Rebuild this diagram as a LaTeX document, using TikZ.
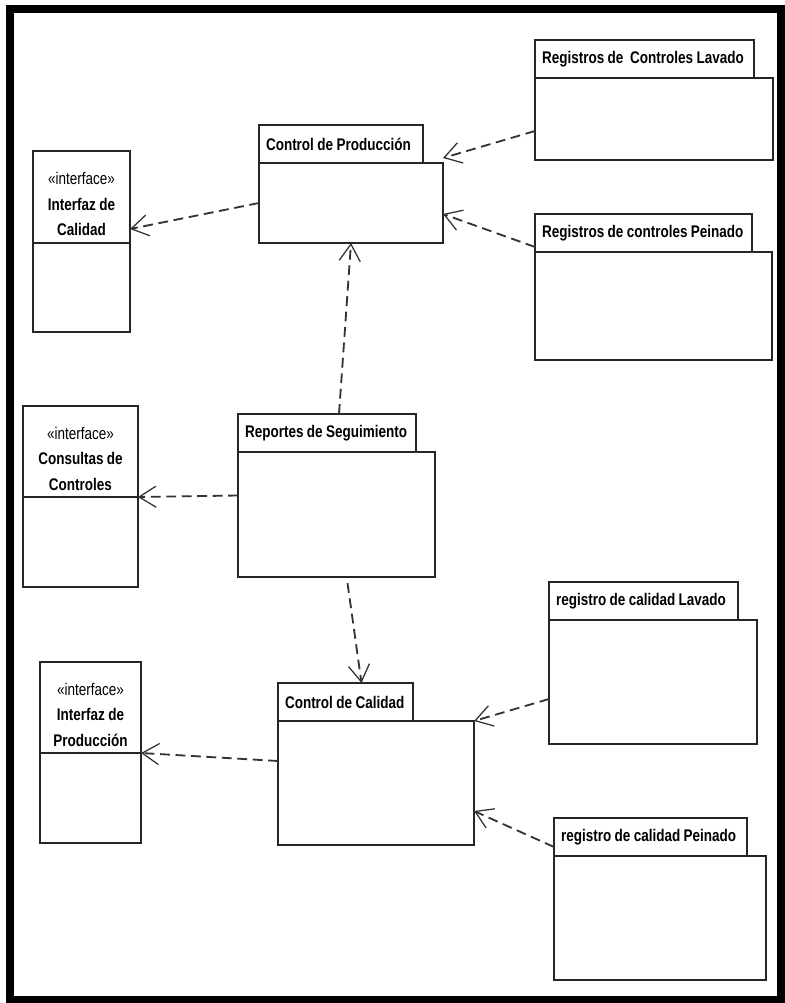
\documentclass[tikz,border=0pt]{standalone}
\usepackage{fontspec}
\setmainfont{Liberation Sans}[FakeStretch=0.8, WordSpace=0.9]
\usetikzlibrary{arrows.meta, positioning}
\newcommand{\px}{0.025cm}
\newcommand{\ifkind}{{\mdseries\rule{0pt}{19pt}«interface»}}

\begin{document}
\begin{tikzpicture}[
    x=0.025cm, y=-0.025cm,
    box/.style={draw=black!85, line width=1.4pt, fill=white, inner sep=0pt, outer sep=0pt, anchor=north west},
    pkgtab/.style={box, text width=#1*\px, align=flush left, minimum height=38*\px, font=\bfseries\fontsize{12}{14}\selectfont, execute at begin node=\hspace*{0.175cm}},
    pkgbody/.style={box, below right=0pt and 0pt of #1.south west},
    ifhead/.style={box, align=center, font=\bfseries\fontsize{12}{18}\selectfont},
    ifbody/.style={box, below right=0pt and 0pt of #1.south west},
    dep/.style={draw=black!80, line width=1.3pt, dash pattern=on 7pt off 4pt, -{Straight Barb[length=12pt, width=15pt, line width=0.9pt]}}
]
\useasboundingbox (0,0) rectangle (784,1003);

% Frame
\draw[line width=8*\px] (9.5,9) rectangle (780.5,999.5);

% Interfaces
\node[ifhead, minimum width=97*\px, minimum height=92*\px] (icHead) at (33,151) {\ifkind\\Interfaz de\\Calidad};
\node[ifbody=icHead, minimum width=97*\px, minimum height=89*\px] (icBody) {};

\node[ifhead, minimum width=115*\px, minimum height=91*\px] (ccHead) at (23,406) {\ifkind\\Consultas de\\Controles};
\node[ifbody=ccHead, minimum width=115*\px, minimum height=90*\px] (ccBody) {};

\node[ifhead, minimum width=101*\px, minimum height=91*\px] (ipHead) at (40,662) {\ifkind\\Interfaz de\\Producción};
\node[ifbody=ipHead, minimum width=101*\px, minimum height=90*\px] (ipBody) {};

% Packages
\node[pkgtab=164] (cpTab) at (259,125) {Control de Producción};
\node[pkgbody=cpTab, minimum width=184*\px, minimum height=80*\px] (cpBody) {};

\node[pkgtab=219] (rlTab) at (535,40) {Registros de~ Controles Lavado};
\node[pkgbody=rlTab, minimum width=238*\px, minimum height=82*\px] (rlBody) {};

\node[pkgtab=217] (rpTab) at (535,214) {Registros de controles Peinado};
\node[pkgbody=rpTab, minimum width=237*\px, minimum height=108*\px] (rpBody) {};

\node[pkgtab=178] (rsTab) at (238,414) {Reportes de Seguimiento};
\node[pkgbody=rsTab, minimum width=197*\px, minimum height=125*\px] (rsBody) {};

\node[pkgtab=135] (cqTab) at (278,683) {Control de Calidad};
\node[pkgbody=cqTab, minimum width=196*\px, minimum height=124*\px] (cqBody) {};

\node[pkgtab=189] (rcTab) at (549,582) {registro de calidad Lavado};
\node[pkgbody=rcTab, minimum width=208*\px, minimum height=124*\px] (rcBody) {};

\node[pkgtab=193] (pcTab) at (554,818) {registro de calidad Peinado};
\node[pkgbody=pcTab, minimum width=212*\px, minimum height=124*\px] (pcBody) {};

% Dependencies
\draw[dep] (cpBody.west) -- ([yshift=14*\px]icHead.south east);
\draw[dep] ([yshift=-12*\px]rlBody.west) -- ([yshift=5*\px]cpBody.north east);
\draw[dep] ([yshift=5*\px]rpTab.south west) -- ([yshift=-11*\px]cpBody.east);
\draw[dep] ([xshift=12*\px]rsTab.north) -- (cpBody.south);
\draw[dep] ([yshift=19*\px]rsBody.west) -- (ccHead.south east);
\draw[dep] ([xshift=11*\px, yshift=-6*\px]rsBody.south) -- ([xshift=16*\px]cqTab.north);
\draw[dep] ([yshift=22*\px]cqBody.west) -- (ipHead.south east);
\draw[dep] ([yshift=-17*\px]rcBody.west) -- (cqBody.north east);
\draw[dep] ([yshift=-10*\px]pcTab.west) -- ([yshift=-28*\px]cqBody.east);

\end{tikzpicture}
\end{document}
